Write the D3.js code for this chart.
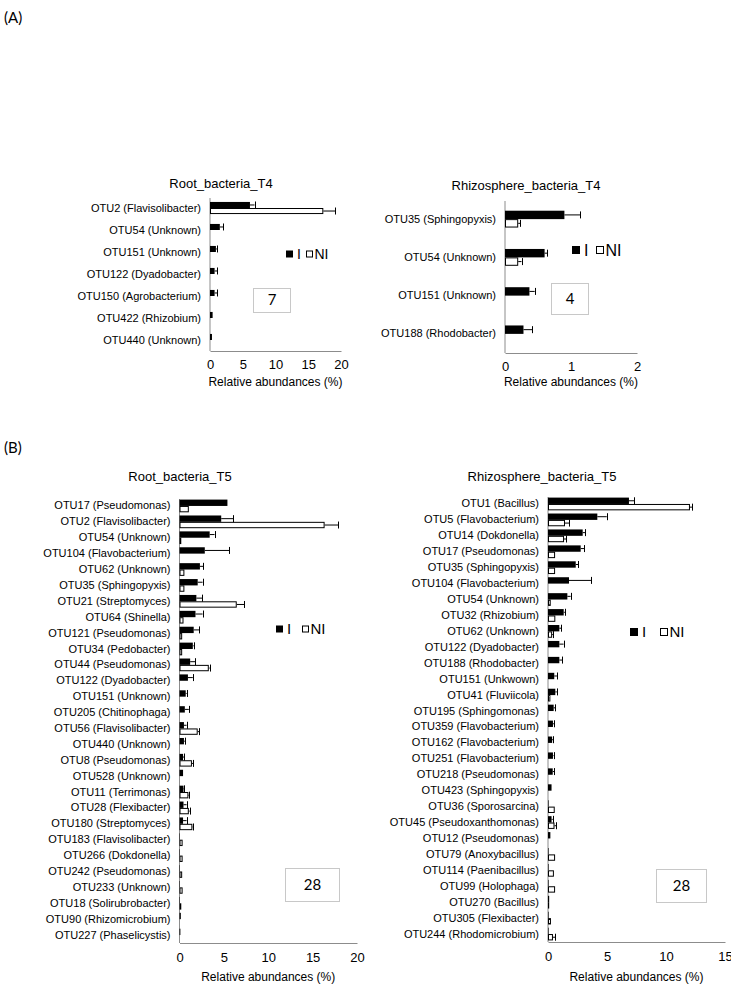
<!DOCTYPE html>
<html>
<head>
<meta charset="utf-8">
<script src="https://cdn.jsdelivr.net/npm/d3@7"></script>
<style>
  body { margin: 0; background: #fff; }
  text { font-family: "Liberation Sans", Arial, sans-serif; fill: #000; }
</style>
</head>
<body>
<div id="chart"></div>
<script>
// ---- data: panel A, root T4
const rootT4Cats = ["OTU2 (Flavisolibacter)", "OTU54 (Unknown)", "OTU151 (Unknown)", "OTU122 (Dyadobacter)",
  "OTU150 (Agrobacterium)", "OTU422 (Rhizobium)", "OTU440 (Unknown)"]
const rootT4I = [6.1, 1.5, 0.9, 0.7, 0.7, 0.4, 0.3]
const rootT4IErr = [0.7, 0.5, 0.15, 0.4, 0.4, 0, 0]
const rootT4NI = [17.3, 0.1, 0.05, 0.05, 0.05, 0.05, 0]
const rootT4NIErr = [1.8, 0, 0, 0, 0, 0, 0]
const rootT4Ticks = [0, 5, 10, 15, 20]

// ---- data: panel A, rhizosphere T4
const rhizoT4Cats = ["OTU35 (Sphingopyxis)", "OTU54 (Unknown)", "OTU151 (Unknown)", "OTU188 (Rhodobacter)"]
const rhizoT4I = [0.9, 0.6, 0.37, 0.28]
const rhizoT4IErr = [0.24, 0.04, 0.08, 0.13]
const rhizoT4NI = [0.2, 0.2, 0.01, 0.01]
const rhizoT4NIErr = [0.03, 0.05, 0, 0]
const rhizoT4Ticks = [0, 1, 2]

// ---- data: panel B, root T5
const rootT5Cats = ["OTU17 (Pseudomonas)", "OTU2 (Flavisolibacter)", "OTU54 (Unknown)", "OTU104 (Flavobacterium)",
  "OTU62 (Unknown)", "OTU35 (Sphingopyxis)", "OTU21 (Streptomyces)", "OTU64 (Shinella)", "OTU121 (Pseudomonas)",
  "OTU34 (Pedobacter)", "OTU44 (Pseudomonas)", "OTU122 (Dyadobacter)", "OTU151 (Unknown)", "OTU205 (Chitinophaga)",
  "OTU56 (Flavisolibacter)", "OTU440 (Unknown)", "OTU8 (Pseudomonas)", "OTU528 (Unknown)", "OTU11 (Terrimonas)",
  "OTU28 (Flexibacter)", "OTU180 (Streptomyces)", "OTU183 (Flavisolibacter)", "OTU266 (Dokdonella)",
  "OTU242 (Pseudomonas)", "OTU233 (Unknown)", "OTU18 (Solirubrobacter)", "OTU90 (Rhizomicrobium)",
  "OTU227 (Phaselicystis)"]
const rootT5I = [5.4, 4.7, 3.4, 2.85, 2.3, 2.05, 1.9, 1.8, 1.6, 1.5, 1.2, 0.95, 0.7, 0.6, 0.5, 0.5, 0.4, 0.4,
  0.45, 0.45, 0.4, 0.05, 0.05, 0.05, 0.05, 0.05, 0.15, 0.1]
const rootT5IErr = [0, 1.35, 0.55, 2.75, 0.35, 0.55, 0.65, 0.8, 0.65, 0.1, 0.6, 0.55, 0.1, 0.45, 0.3, 0.1, 0.15, 0,
  0.1, 0.35, 0.4, 0, 0, 0, 0, 0, 0, 0]
const rootT5NI = [1.05, 16.35, 0.2, 0.05, 0.55, 0.55, 6.45, 0.45, 0.3, 0.3, 3.3, 0.05, 0.05, 0.05, 2.05, 0.05, 1.4,
  0.05, 1.0, 1.05, 1.45, 0.35, 0.35, 0.3, 0.35, 0.2, 0.1, 0.1]
const rootT5NIErr = [0, 1.55, 0, 0, 0, 0, 0.85, 0, 0, 0, 0.1, 0, 0, 0, 0.15, 0, 0.15, 0, 0.1, 0.1, 0.05, 0, 0, 0,
  0, 0, 0, 0]
const rootT5Ticks = [0, 5, 10, 15, 20]

// ---- data: panel B, rhizosphere T5
const rhizoT5Cats = ["OTU1 (Bacillus)", "OTU5 (Flavobacterium)", "OTU14 (Dokdonella)", "OTU17 (Pseudomonas)",
  "OTU35 (Sphingopyxis)", "OTU104 (Flavobacterium)", "OTU54 (Unknown)", "OTU32 (Rhizobium)", "OTU62 (Unknown)",
  "OTU122 (Dyadobacter)", "OTU188 (Rhodobacter)", "OTU151 (Unkwown)", "OTU41 (Fluviicola)", "OTU195 (Sphingomonas)",
  "OTU359 (Flavobacterium)", "OTU162 (Flavobacterium)", "OTU251 (Flavobacterium)", "OTU218 (Pseudomonas)",
  "OTU423 (Sphingopyxis)", "OTU36 (Sporosarcina)", "OTU45 (Pseudoxanthomonas)", "OTU12 (Pseudomonas)",
  "OTU79 (Anoxybacillus)", "OTU114 (Paenibacillus)", "OTU99 (Holophaga)", "OTU270 (Bacillus)",
  "OTU305 (Flexibacter)", "OTU244 (Rhodomicrobium)"]
const rhizoT5I = [6.86, 4.18, 2.94, 2.77, 2.35, 1.78, 1.64, 1.33, 0.96, 0.96, 0.96, 0.53, 0.62, 0.48, 0.42, 0.35,
  0.42, 0.4, 0.3, 0.05, 0.3, 0.2, 0.05, 0.05, 0.05, 0.1, 0.05, 0.05]
const rhizoT5IErr = [0.45, 0.8, 0.2, 0.28, 0.22, 1.86, 0.28, 0.1, 0.15, 0.36, 0.24, 0.23, 0.13, 0.12, 0.08, 0.1,
  0.05, 0.15, 0, 0, 0.1, 0, 0, 0, 0, 0, 0, 0]
const rhizoT5NI = [12.03, 1.44, 1.36, 0.6, 0.6, 0.02, 0.23, 0.62, 0.35, 0.05, 0.05, 0.05, 0.2, 0.05, 0.05, 0.05,
  0.05, 0.05, 0.02, 0.57, 0.55, 0.02, 0.6, 0.5, 0.6, 0.1, 0.25, 0.42]
const rhizoT5NIErr = [0.17, 0.34, 0.17, 0, 0, 0, 0, 0, 0.1, 0, 0, 0, 0, 0, 0, 0, 0, 0, 0, 0, 0.15, 0, 0, 0, 0, 0,
  0, 0.2]
const rhizoT5Ticks = [0, 5, 10, 15]

const svg = d3.select("#chart")
  .append("svg")
    .attr("width", 731)
    .attr("height", 984)

// panel letters
svg.append("text").attr("x", 4).attr("y", 23).style("font-family", "Lato, sans-serif")
  .style("font-size", "15px").text("(A)")
svg.append("text").attr("x", 4).attr("y", 453).style("font-family", "Lato, sans-serif")
  .style("font-size", "15px").text("(B)")

function drawPanel(p) {
  const g = svg.append("g")

  const x = d3.scaleLinear()
    .domain([0, d3.max(p.ticks)])
    .range([p.x0, p.x1])

  const y = d3.scaleBand()
    .domain(p.cats)
    .range([p.y0, p.y1])
    .paddingInner(p.pad)
    .paddingOuter(p.pad / 2)

  const rows = p.cats.map((c, i) => ({cat: c, i: p.iv[i], ie: p.ie[i], ni: p.nv[i], ne: p.ne[i]}))
  const h = y.bandwidth() / 2

  // y axis (categories)
  const yAxis = g.append("g")
    .attr("transform", "translate(" + p.x0 + ",0)")
    .call(d3.axisLeft(y).tickSize(0).tickPadding(9))
  yAxis.select(".domain").attr("stroke", "#8c8c8c").attr("d", "M0," + (p.y0 + 1) + "V" + p.y1)
  yAxis.selectAll("text").style("font-size", "11px")
    .style("font-family", "'Liberation Sans', Arial, sans-serif")

  // x axis
  const xAxis = g.append("g")
    .attr("transform", "translate(0," + p.y1 + ")")
    .call(d3.axisBottom(x).tickValues(p.ticks).tickSize(0).tickPadding(p.tickPad).tickFormat(d3.format("d")))
  xAxis.select(".domain").attr("stroke", "#8c8c8c")
  xAxis.selectAll("text").style("font-size", "13px")
    .style("font-family", "'Liberation Sans', Arial, sans-serif")

  // bars I (filled) and NI (open)
  g.append("g").selectAll("rect").data(rows).enter().append("rect")
    .attr("x", x(0))
    .attr("y", d => y(d.cat))
    .attr("width", d => x(d.i) - x(0))
    .attr("height", h)
    .attr("fill", "#000")

  g.append("g").selectAll("rect").data(rows).enter().append("rect")
    .attr("x", x(0) + 0.5)
    .attr("y", d => y(d.cat) + h + 0.5)
    .attr("width", d => Math.max(0, x(d.ni) - x(0) - 1))
    .attr("height", h - 1)
    .attr("fill", "#fff")
    .attr("stroke", "#000")
    .attr("stroke-width", 1)

  // error bars
  const errs = []
  rows.forEach(d => {
    if (d.ie > 0) errs.push({v: d.i, e: d.ie, yc: y(d.cat) + h / 2})
    if (d.ne > 0) errs.push({v: d.ni, e: d.ne, yc: y(d.cat) + h * 1.5})
  })
  const eg = g.append("g").attr("stroke", "#000").attr("stroke-width", 1)
  eg.selectAll(".eline").data(errs).enter().append("line")
    .attr("x1", d => x(d.v)).attr("x2", d => x(d.v + d.e))
    .attr("y1", d => d.yc).attr("y2", d => d.yc)
  eg.selectAll(".ecap").data(errs).enter().append("line")
    .attr("x1", d => Math.round(x(d.v + d.e)) + 0.5).attr("x2", d => Math.round(x(d.v + d.e)) + 0.5)
    .attr("y1", d => d.yc - Math.min(3.5, h / 2 + 0.5)).attr("y2", d => d.yc + Math.min(3.5, h / 2 + 0.5))

  // title + axis title
  g.append("text").attr("x", p.titleX).attr("y", p.titleY).attr("text-anchor", "middle")
    .style("font-size", "13px").text(p.title)
  g.append("text").attr("x", (p.x0 + p.x1) / 2).attr("y", p.axTitleY).attr("text-anchor", "middle")
    .style("font-size", "12px").text("Relative abundances (%)")

  // legend
  const L = p.legend
  g.append("rect").attr("x", L.x).attr("y", L.y - L.s / 2).attr("width", L.s).attr("height", L.s).attr("fill", "#000")
  g.append("text").attr("x", L.x + L.s + 4).attr("y", L.y).attr("dy", "0.36em")
    .style("font-size", L.fs + "px").text("I")
  g.append("rect").attr("x", L.x2 + 0.5).attr("y", L.y - L.s / 2 + 0.5).attr("width", L.s - 1).attr("height", L.s - 1)
    .attr("fill", "#fff").attr("stroke", "#000")
  g.append("text").attr("x", L.x2 + L.s + 1.5).attr("y", L.y).attr("dy", "0.36em")
    .style("font-size", L.fs + "px").text("NI")

  // count box
  const B = p.box
  g.append("rect").attr("x", B.x + 0.5).attr("y", B.y + 0.5).attr("width", B.w).attr("height", B.h)
    .attr("fill", "#fff").attr("stroke", "#c8c8c8")
  g.append("text").attr("x", B.x + B.w / 2 + 0.5).attr("y", B.y + B.h / 2).attr("dy", "0.36em")
    .attr("text-anchor", "middle").style("font-family", "Lato, sans-serif").style("font-size", "15px")
    .text(p.cats.length)
}

drawPanel({
  cats: rootT4Cats, iv: rootT4I, ie: rootT4IErr, nv: rootT4NI, ne: rootT4NIErr, ticks: rootT4Ticks,
  x0: 210, x1: 341, y0: 197, y1: 351, pad: 0.45, tickPad: 9,
  title: "Root_bacteria_T4", titleX: 221, titleY: 188, axTitleY: 386,
  legend: {x: 286, x2: 306, y: 254, s: 7, fs: 14},
  box: {x: 253, y: 288, w: 37, h: 24}
})

drawPanel({
  cats: rhizoT4Cats, iv: rhizoT4I, ie: rhizoT4IErr, nv: rhizoT4NI, ne: rhizoT4NIErr, ticks: rhizoT4Ticks,
  x0: 505, x1: 637, y0: 200, y1: 353, pad: 0.56, tickPad: 9,
  title: "Rhizosphere_bacteria_T4", titleX: 526, titleY: 190, axTitleY: 386,
  legend: {x: 572, x2: 596, y: 250, s: 8, fs: 16},
  box: {x: 551, y: 283, w: 37, h: 31}
})

drawPanel({
  cats: rootT5Cats, iv: rootT5I, ie: rootT5IErr, nv: rootT5NI, ne: rootT5NIErr, ticks: rootT5Ticks,
  x0: 179.5, x1: 357, y0: 498, y1: 943, pad: 0.2, tickPad: 10,
  title: "Root_bacteria_T5", titleX: 180, titleY: 481, axTitleY: 981,
  legend: {x: 276, x2: 302, y: 629, s: 7, fs: 15},
  box: {x: 285, y: 868, w: 54, h: 33}
})

drawPanel({
  cats: rhizoT5Cats, iv: rhizoT5I, ie: rhizoT5IErr, nv: rhizoT5NI, ne: rhizoT5NIErr, ticks: rhizoT5Ticks,
  x0: 548, x1: 725, y0: 496, y1: 942, pad: 0.2, tickPad: 10,
  title: "Rhizosphere_bacteria_T5", titleX: 542, titleY: 481, axTitleY: 981,
  legend: {x: 630, x2: 660, y: 632, s: 8, fs: 15},
  box: {x: 656, y: 869, w: 50, h: 33}
})
</script>
</body>
</html>
